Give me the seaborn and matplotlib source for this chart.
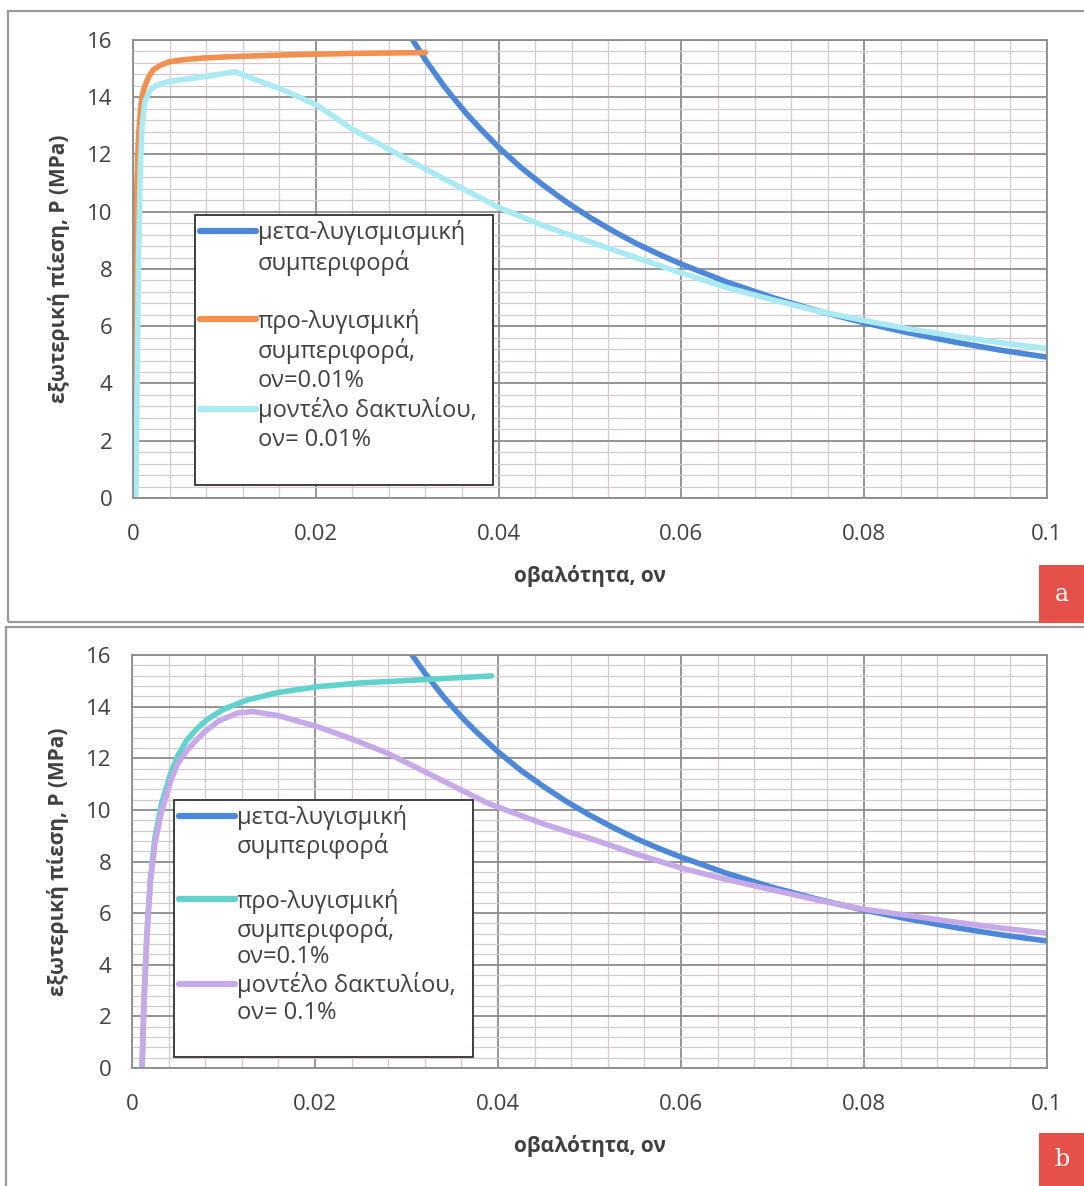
import numpy as np
import pandas as pd
import matplotlib
matplotlib.use("Agg")
import matplotlib.pyplot as plt
import seaborn as sns
from matplotlib.lines import Line2D
from matplotlib.patches import Rectangle
from matplotlib.ticker import MultipleLocator, FuncFormatter

# ---------------- data ----------------
post_x = [0.0300, 0.0306, 0.031, 0.032, 0.033, 0.034, 0.035, 0.0365, 0.038, 0.040,
          0.0425, 0.045, 0.0475, 0.050, 0.0525, 0.055, 0.0575, 0.060, 0.065,
          0.070, 0.075, 0.080, 0.085, 0.090, 0.095, 0.100]
post_y = [16.3, 16.0, 15.8, 15.3, 14.85, 14.4, 14.0, 13.42, 12.9, 12.25,
          11.53, 10.9, 10.32, 9.8, 9.33, 8.9, 8.52, 8.17, 7.54,
          7.0, 6.53, 6.12, 5.76, 5.44, 5.16, 4.92]

pre_a_x = [0, 0.0001, 0.0002, 0.0003, 0.0004, 0.0006, 0.0008, 0.001, 0.0013, 0.0017,
           0.0022, 0.003, 0.004, 0.0055, 0.0077, 0.011, 0.0168, 0.024, 0.032]
pre_a_y = [0, 3.5, 6.5, 9.0, 10.8, 12.6, 13.5, 14.05, 14.4, 14.7,
           14.95, 15.12, 15.24, 15.31, 15.37, 15.42, 15.48, 15.53, 15.56]

ring_a_x = [0.0003, 0.0004, 0.0005, 0.0006, 0.0008, 0.001, 0.0013, 0.0018, 0.0025, 0.0035,
            0.005, 0.007, 0.009, 0.0112, 0.0135, 0.0161, 0.0201, 0.0241, 0.0295, 0.0336,
            0.040, 0.045, 0.050, 0.055, 0.060, 0.065, 0.070, 0.0752, 0.080, 0.085,
            0.090, 0.095, 0.100]
ring_a_y = [0, 2.5, 5.5, 8.5, 11.5, 13.0, 13.85, 14.2, 14.4, 14.52,
            14.6, 14.68, 14.78, 14.89, 14.6, 14.3, 13.73, 12.86, 11.92, 11.22,
            10.15, 9.5, 8.95, 8.4, 7.86, 7.35, 6.92, 6.51, 6.2, 5.9,
            5.65, 5.42, 5.22]

pre_b_x = [0.0011, 0.0013, 0.0016, 0.002, 0.0025, 0.0032, 0.0042, 0.005, 0.006, 0.0071,
           0.0082, 0.010, 0.0126, 0.016, 0.0202, 0.025, 0.0315, 0.0393]
pre_b_y = [0, 2.5, 5.0, 7.3, 8.9, 10.2, 11.4, 12.1, 12.7, 13.15,
           13.5, 13.9, 14.26, 14.55, 14.77, 14.92, 15.04, 15.19]

ring_b_x = [0.0011, 0.0013, 0.0016, 0.002, 0.0025, 0.0032, 0.0042, 0.005, 0.006, 0.007,
            0.008, 0.0095, 0.0115, 0.0132, 0.016, 0.0205, 0.024, 0.0279, 0.033, 0.0388,
            0.045, 0.050, 0.055, 0.060, 0.065, 0.070, 0.075, 0.080, 0.085, 0.090,
            0.095, 0.100]
ring_b_y = [0, 2.5, 5.0, 7.2, 8.7, 9.9, 11.1, 11.8, 12.3, 12.7,
            13.05, 13.45, 13.75, 13.81, 13.65, 13.2, 12.75, 12.2, 11.3, 10.27,
            9.45, 8.9, 8.3, 7.75, 7.3, 6.9, 6.5, 6.15, 5.9, 5.65,
            5.42, 5.22]

x_label = "οβαλότητα, ον"
y_label = "εξωτερική πίεση, P (MPa)"
labels_a = [["μετα-λυγισμισμική", "συμπεριφορά", ""],
            ["προ-λυγισμική", "συμπεριφορά,", "ον=0.01%"],
            ["μοντέλο δακτυλίου,", "ον= 0.01%", ""]]
labels_b = [["μετα-λυγισμική", "συμπεριφορά", ""],
            ["προ-λυγισμική", "συμπεριφορά,", "ον=0.1%"],
            ["μοντέλο δακτυλίου,", "ον= 0.1%", ""]]
panel_tags = ["a", "b"]

C_POST = "#4d88d8"
C_PRE_A = "#f2904f"
C_RING_A = "#a9eaf3"
C_PRE_B = "#62d2cd"
C_RING_B = "#c6a9e8"

# ---------------- style ----------------
sns.set_theme(style="white")
plt.rcParams["font.family"] = ["Open Sans", "DejaVu Sans"]
TXT = "#404040"

fig = plt.figure(figsize=(10.84, 11.86), dpi=100)
fig.patch.set_facecolor("white")

# panel frames
fig.add_artist(Rectangle((0.0074, 0.4755), 1.1, 0.5152, transform=fig.transFigure,
                         fill=False, edgecolor="#9a9a9a", lw=1.6))
fig.add_artist(Rectangle((0.0055, -0.05), 1.1, 0.5213, transform=fig.transFigure,
                         fill=False, edgecolor="#9a9a9a", lw=1.6))

ax_a = fig.add_axes([0.1227, 0.5801, 0.8432, 0.3862])
ax_b = fig.add_axes([0.1218, 0.0995, 0.8441, 0.3482])


def style_axes(ax):
    ax.set_xlim(0, 0.1)
    ax.set_ylim(0, 16)
    ax.xaxis.set_major_locator(MultipleLocator(0.02))
    ax.xaxis.set_minor_locator(MultipleLocator(0.004))
    ax.yaxis.set_major_locator(MultipleLocator(2))
    ax.yaxis.set_minor_locator(MultipleLocator(0.4))
    ax.xaxis.set_major_formatter(FuncFormatter(lambda v, p: "%g" % round(v, 3)))
    ax.grid(which="minor", color="#d6cad0", lw=0.9, zorder=0)
    ax.grid(which="major", color="#8c8c8c", lw=1.3, zorder=0.5)
    ax.set_axisbelow(True)
    for s in ax.spines.values():
        s.set_color("#8c8c8c")
        s.set_linewidth(1.3)
    ax.tick_params(which="major", direction="out", length=7, width=1.2, color="#8c8c8c",
                   labelsize=16, labelcolor=TXT)
    ax.tick_params(which="minor", length=0)
    ax.tick_params(axis="x", pad=12)
    ax.tick_params(axis="y", pad=8)
    ax.set_xlabel(x_label, fontsize=15, fontweight="bold", color=TXT, labelpad=14)
    ax.set_ylabel(y_label, fontsize=15, fontweight="bold", color=TXT, labelpad=12)


def draw(ax, x, y, color):
    df = pd.DataFrame({"x": x, "y": y})
    sns.lineplot(data=df, x="x", y="y", ax=ax, color=color, lw=4.0, sort=False,
                 estimator=None, legend=False, solid_capstyle="round",
                 solid_joinstyle="round")


style_axes(ax_a)
draw(ax_a, post_x, post_y, C_POST)
draw(ax_a, pre_a_x, pre_a_y, C_PRE_A)
draw(ax_a, ring_a_x, ring_a_y, C_RING_A)
style_axes(ax_b)
draw(ax_b, post_x, post_y, C_POST)
draw(ax_b, pre_b_x, pre_b_y, C_PRE_B)
draw(ax_b, ring_b_x, ring_b_y, C_RING_B)


def make_legend(ax, labels, colors, anchor, spacing):
    handles, texts = [], []
    for lab, col in zip(labels, colors):
        for i, line in enumerate(lab):
            if i == 0:
                handles.append(Line2D([], [], color=col, lw=4.5, solid_capstyle="round"))
            else:
                handles.append(Line2D([], [], color="none"))
            texts.append(line if line else " ")
    leg = ax.legend(handles, texts, loc="upper left", bbox_to_anchor=anchor,
                    mode="expand", fontsize=17, frameon=True, fancybox=False,
                    framealpha=1, edgecolor="#303030", borderpad=0.22, handlelength=2.35,
                    handletextpad=0.1, labelspacing=spacing, borderaxespad=0)
    leg.get_frame().set_linewidth(1.3)
    for t in leg.get_texts():
        t.set_color(TXT)
    return leg


make_legend(ax_a, labels_a, [C_POST, C_PRE_A, C_RING_A], (0.0678, 0.618, 0.3262, 0.0), 0.19)
make_legend(ax_b, labels_b, [C_POST, C_PRE_B, C_RING_B], (0.0459, 0.649, 0.3268, 0.0), 0.12)

# panel tags
for tag, (y0, h) in zip(panel_tags, [(0.4747, 0.0489), (0.0, 0.0447)]):
    fig.add_artist(Rectangle((0.9585, y0), 0.05, h, transform=fig.transFigure,
                             facecolor="#e6504b", edgecolor="none"))
    fig.text(0.9585 + 0.0415 / 2, y0 + h / 2, tag, ha="center", va="center",
             fontsize=17, color="white", family="DejaVu Serif")

fig.savefig("out.png", dpi=100, facecolor="white")
